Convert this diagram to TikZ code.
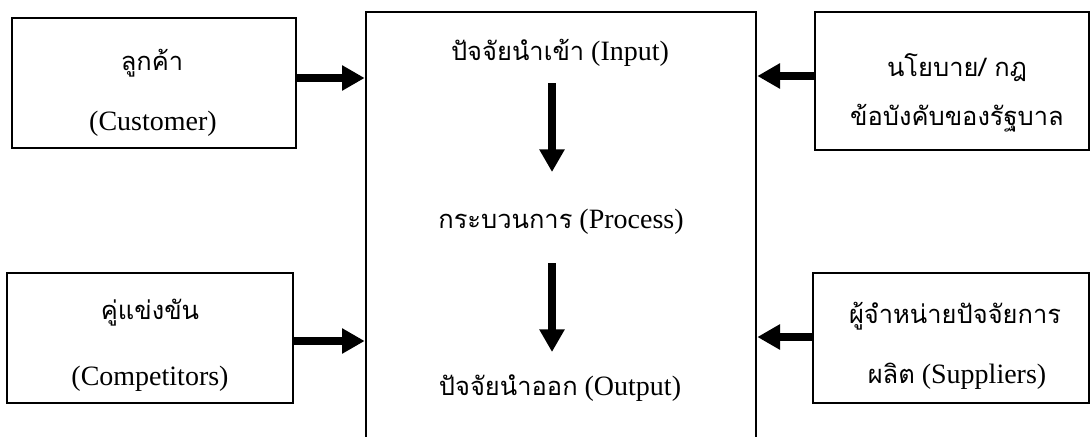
\documentclass[tikz,border=0pt]{standalone}
\usepackage{fontspec}
\setmainfont{Liberation Serif}
\newfontfamily\thaifont[Script=Thai,Scale=0.91]{Loma}
\usetikzlibrary{arrows.meta}
\begin{document}
\begin{tikzpicture}[x=0.75pt,y=-0.75pt,
  box/.style={draw,line width=2pt,inner sep=0pt},
  lbl/.style={inner sep=0pt,font=\fontsize{21}{24}\selectfont},
  thick arrow/.style={line width=6pt,-{Triangle[length=17pt,width=18pt]}}]
\useasboundingbox (0,0) rectangle (1092,436);
% boxes
\node[box,minimum width=284*0.75pt,minimum height=130*0.75pt] (lt) at (154,83) {};
\node[box,minimum width=286*0.75pt,minimum height=130*0.75pt] (lb) at (150,338) {};
\node[box,minimum width=274*0.75pt,minimum height=138*0.75pt] (rt) at (952,81) {};
\node[box,minimum width=276*0.75pt,minimum height=130*0.75pt] (rb) at (951,338) {};
\node[box,minimum width=390*0.75pt,minimum height=438*0.75pt] (ctr) at (561,231) {};
% texts
\node[lbl] (t1a) at (152,63) {\thaifont ลูกค้า};
\node[lbl] (t1b) at (153,124) {(Customer)};
\node[lbl] (t2a) at (150,313) {\thaifont คู่แข่งขัน};
\node[lbl] (t2b) at (150,379) {(Competitors)};
\node[lbl] (t3a) at (957,68) {\thaifont นโยบาย/ กฎ};
\node[lbl] (t3b) at (957,118) {\thaifont ข้อบังคับของรัฐบาล};
\node[lbl] (t4a) at (955,316) {\thaifont ผู้จำหน่ายปัจจัยการ};
\node[lbl] (t4b) at (957,376) {{\thaifont ผลิต} (Suppliers)};
\node[lbl] (in) at (560,53) {{\thaifont ปัจจัยนำเข้า} (Input)};
\node[lbl] (proc) at (561,222) {{\thaifont กระบวนการ} (Process)};
\node[lbl] (out) at (560,388) {{\thaifont ปัจจัยนำออก} (Output)};
% arrow end points
\coordinate (a1s) at (552,83);
\coordinate (a1e) at (552,172);
\coordinate (a2s) at (552,263);
\coordinate (a2e) at (552,352);
% connectors
\draw[thick arrow] ([yshift=3.75pt]lt.east) -- ([yshift=3.75pt]lt.east -| ctr.west);
\draw[thick arrow] ([yshift=-2.25pt]lb.east) -- ([yshift=-2.25pt]lb.east -| ctr.west);
\draw[thick arrow] ([yshift=3.75pt]rt.west) -- ([yshift=3.75pt]rt.west -| ctr.east);
\draw[thick arrow] ([yshift=0.75pt]rb.west) -- ([yshift=0.75pt]rb.west -| ctr.east);
\draw[thick arrow] (a1s) -- (a1e);
\draw[thick arrow] (a2s) -- (a2e);
\end{tikzpicture}
\end{document}
